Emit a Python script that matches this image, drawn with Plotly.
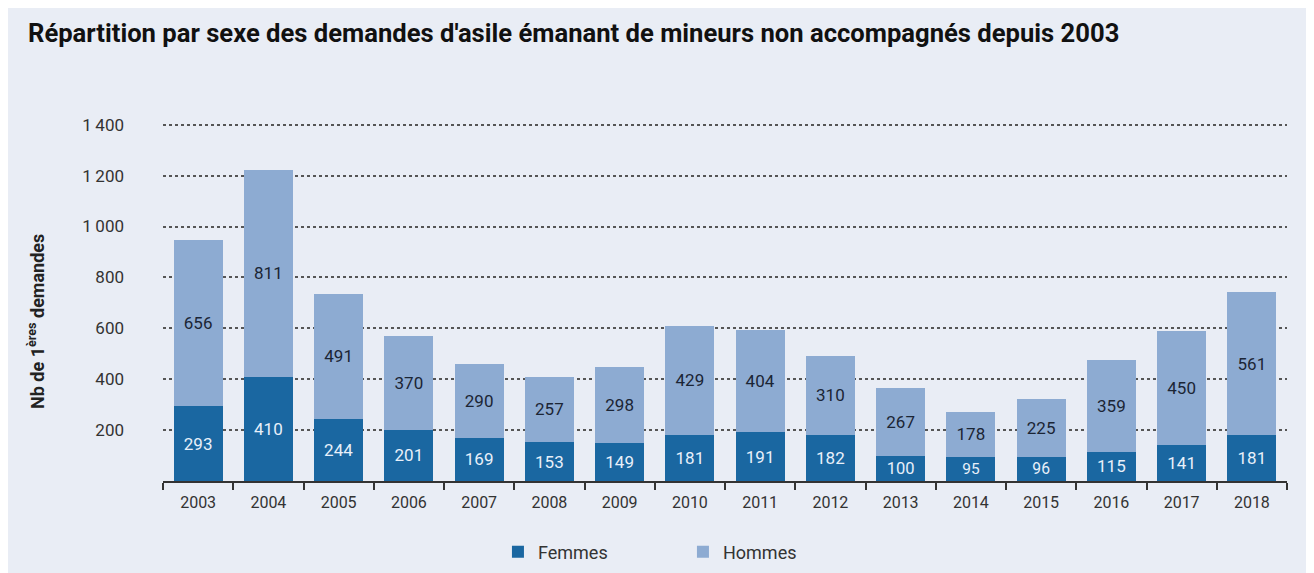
import plotly.graph_objects as go

years = [str(y) for y in range(2003, 2019)]
femmes = [293, 410, 244, 201, 169, 153, 149, 181, 191, 182, 100, 95, 96, 115, 141, 181]
hommes = [656, 811, 491, 370, 290, 257, 298, 429, 404, 310, 267, 178, 225, 359, 450, 561]
y_ticks = [200, 400, 600, 800, 1000, 1200, 1400]

BG = "#e9edf5"
FONT = "Roboto, Inter, Arial, sans-serif"
W, H = 1306, 565
M = dict(l=155, r=27, t=104, b=92)

fig = go.Figure()
fig.add_trace(go.Bar(
    x=years, y=femmes, name="Femmes",
    marker=dict(color="#1a67a1", line=dict(width=0)),
    text=femmes, textposition="inside", insidetextanchor="middle", textangle=0,
    textfont=dict(color="#e8f0fa", size=17, family=FONT),
))
fig.add_trace(go.Bar(
    x=years, y=hommes, name="Hommes",
    marker=dict(color="#8dabd2", line=dict(width=0)),
    text=hommes, textposition="inside", insidetextanchor="middle", textangle=0,
    textfont=dict(color="#1b2535", size=17, family=FONT),
))

# y-axis title as an annotation so it can sit slightly below the plot centre
plot_w = W - M["l"] - M["r"]
plot_h = H - M["t"] - M["b"]
ytitle_x = (28 - M["l"]) / plot_w
ytitle_y = (H - M["b"] - 314) / plot_h

fig.update_layout(
    barmode="stack",
    bargap=0.3,
    width=W, height=H,
    paper_bgcolor=BG, plot_bgcolor=BG,
    margin=M,
    font=dict(family=FONT, color="#333333", size=15),
    separators=",\u2009",
    title=dict(
        text="<b>Répartition par sexe des demandes d'asile émanant de mineurs non accompagnés depuis 2003</b>",
        x=20 / W, xanchor="left", xref="container",
        y=1 - 25 / H, yanchor="middle", yref="container",
        font=dict(size=25.6, color="#111111", family=FONT, weight=900),
    ),
    legend=dict(
        orientation="h", traceorder="normal",
        x=0.298, xanchor="left", y=1 - 544 / H, yanchor="middle",
        yref="container", entrywidth=140, font=dict(size=18, color="#333333"),
        bgcolor="rgba(0,0,0,0)",
    ),
    showlegend=True,
    annotations=[dict(
        text="<b>Nb de 1<sup>ères</sup> demandes</b>", textangle=-90,
        x=ytitle_x, xref="paper", xanchor="center",
        y=ytitle_y, yref="paper", yanchor="middle",
        showarrow=False, font=dict(size=18, color="#222222"),
    )],
)

fig.update_xaxes(
    showline=True, linecolor="#333333", linewidth=2,
    ticks="outside", tickson="boundaries", ticklen=7, tickwidth=2, tickcolor="#333333",
    showgrid=False, tickfont=dict(size=16, color="#333333"), ticklabelstandoff=6,
)
fig.update_yaxes(
    range=[0, 1450], tickvals=y_ticks, tickformat=",d",
    showgrid=True, gridcolor="#555555", griddash="dot", gridwidth=1.5,
    zeroline=False, showline=False, ticks="",
    ticklabelstandoff=38,
    tickfont=dict(size=17, color="#333333"),
)

fig.write_html("out.html")
